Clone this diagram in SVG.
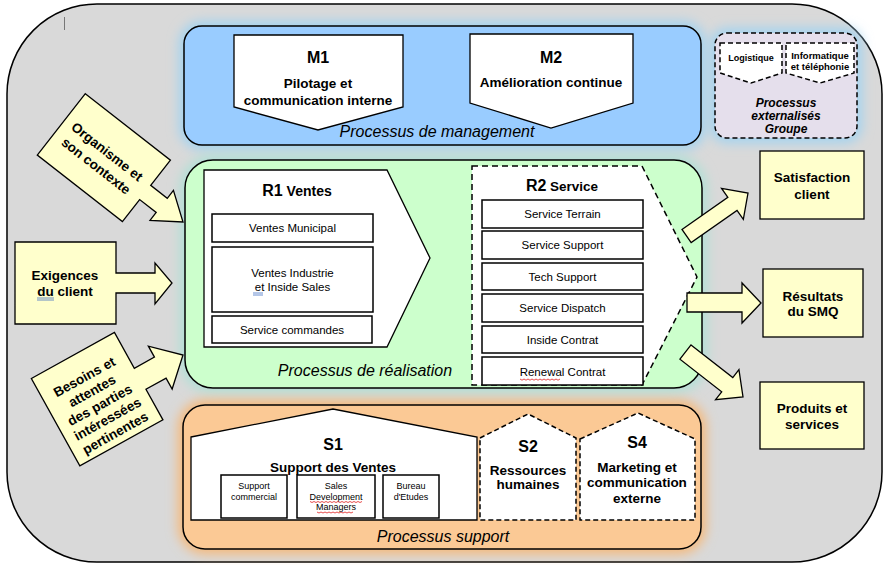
<svg xmlns="http://www.w3.org/2000/svg" width="884" height="565" viewBox="0 0 884 565">
<defs>
<filter id="glow" x="-20%" y="-30%" width="140%" height="160%"><feGaussianBlur stdDeviation="6"/></filter>
<style>
text{font-family:"Liberation Sans",Arial,sans-serif;fill:#000}
.b{font-weight:bold}
.bt{font-weight:bold;font-size:13.5px;text-anchor:middle}
.ttl{font-weight:bold;font-size:16px;text-anchor:middle}
.it{font-style:italic;font-size:16px;text-anchor:middle}
.sm{font-size:11.5px;text-anchor:middle}
.xs{font-size:9px;text-anchor:middle}
.ext{font-weight:bold;font-style:italic;font-size:12px;text-anchor:middle}
.box{fill:#fff;stroke:#000;stroke-width:1.5}
.wh{fill:#fff;stroke:#000;stroke-width:1.3}
.dash{fill:#fff;stroke:#000;stroke-width:1.5;stroke-dasharray:5,3}
.yel{fill:#ffffcc;stroke:#000;stroke-width:1.3}
.spell{fill:none;stroke:#e02020;stroke-width:0.8}
.blue{fill:none;stroke:#4472c4;stroke-width:0.8}
</style>
</defs>

<rect id="frame" x="7" y="4" width="875" height="558" rx="90" fill="#d9d9d9" stroke="#000" stroke-width="1.5"/>
<line x1="64.5" y1="17" x2="64.5" y2="30" stroke="#777" stroke-width="1"/>

<!-- glows -->
<rect x="184" y="26" width="517" height="119" rx="18" fill="#a3d3f0" stroke="#a3d3f0" stroke-width="10" filter="url(#glow)"/>
<rect x="715" y="33" width="142" height="105" rx="12" fill="#a3d3f0" stroke="#a3d3f0" stroke-width="10" filter="url(#glow)"/>
<rect x="185" y="160" width="517" height="228" rx="28" fill="#b0e0d6" stroke="#b0e0d6" stroke-width="10" filter="url(#glow)"/>
<rect x="183" y="405" width="518" height="144" rx="22" fill="#f6b878" stroke="#f6b878" stroke-width="10" filter="url(#glow)"/>

<g id="management">
<rect x="184" y="26" width="517" height="119" rx="18" fill="#99ccff" stroke="#000" stroke-width="1.5"/>
<g id="M1">
<polygon class="wh" points="234,35 403,35 403,107 318,130 234,107"/>
<text class="ttl" x="318" y="63">M1</text>
<text class="bt" x="318" y="88">Pilotage et</text>
<text class="bt" x="318" y="105">communication interne</text>
</g>
<g id="M2">
<polygon class="wh" points="470,34 633,34 633,103 551,128 470,103"/>
<text class="ttl" x="551" y="63">M2</text>
<text class="bt" x="551" y="87">Amélioration continue</text>
</g>
<text class="it" x="437" y="137">Processus de management</text>
</g>

<g id="externalises">
<rect x="715" y="33" width="142" height="105" rx="12" fill="#e5dfec" stroke="#000" stroke-width="1.5" stroke-dasharray="5,3"/>
<g id="logistique">
<polygon class="dash" points="720,43 782,43 782,73 751,83 720,73"/>
<text class="b" x="751" y="60.5" font-size="9" text-anchor="middle">Logistique</text>
</g>
<g id="informatique">
<polygon class="dash" points="786,43 854,43 854,73 820,83 786,73"/>
<text class="b" x="820" y="58.5" font-size="9.5" text-anchor="middle">Informatique</text>
<text class="b" x="820" y="69.5" font-size="9.5" text-anchor="middle">et téléphonie</text>
</g>
<text class="ext" x="786" y="107">Processus</text>
<text class="ext" x="786" y="120">externalisés</text>
<text class="ext" x="786" y="133">Groupe</text>
</g>

<g id="realisation">
<rect x="185" y="160" width="517" height="228" rx="28" fill="#ccffcc" stroke="#000" stroke-width="1.5"/>
<g id="R1">
<polygon class="wh" points="204,170 387,170 430,258 387,347 204,347"/>
<text class="b" x="297" y="196" text-anchor="middle"><tspan font-size="16">R1</tspan><tspan font-size="14"> Ventes</tspan></text>
<rect class="box" x="212" y="214" width="161" height="28"/>
<text class="sm" x="292.5" y="232">Ventes Municipal</text>
<rect class="box" x="212" y="247" width="161" height="65"/>
<text class="sm" x="292.5" y="277">Ventes Industrie</text>
<text class="sm" x="292.5" y="291">et Inside Sales</text>
<line class="blue" x1="253" y1="293" x2="263" y2="293"/>
<line class="blue" x1="253" y1="295" x2="263" y2="295"/>
<rect class="box" x="212" y="316" width="160" height="27"/>
<text class="sm" x="292" y="334">Service commandes</text>
</g>
<g id="R2">
<polygon fill="#fff" stroke="#000" stroke-width="1.5" stroke-dasharray="6,4" points="472,166 642,166 697,277 642,385 472,385"/>
<text class="b" x="562" y="191" text-anchor="middle"><tspan font-size="16">R2</tspan><tspan font-size="13.5"> Service</tspan></text>
<rect class="box" x="482" y="200" width="161" height="28"/>
<text class="sm" x="562.5" y="218">Service Terrain</text>
<rect class="box" x="482" y="231" width="161" height="28"/>
<text class="sm" x="562.5" y="249">Service Support</text>
<rect class="box" x="482" y="263" width="161" height="27"/>
<text class="sm" x="562.5" y="281">Tech Support</text>
<rect class="box" x="482" y="294" width="161" height="28"/>
<text class="sm" x="562.5" y="312">Service Dispatch</text>
<rect class="box" x="482" y="326" width="161" height="27"/>
<text class="sm" x="562.5" y="344">Inside Contrat</text>
<rect class="box" x="482" y="357" width="161" height="28"/>
<text class="sm" x="562.5" y="376">Renewal Contrat</text>
<path class="spell" d="M520,379 l2,1.2 l2,-1.2 l2,1.2 l2,-1.2 l2,1.2 l2,-1.2 l2,1.2 l2,-1.2 l2,1.2 l2,-1.2 l2,1.2 l2,-1.2 l2,1.2 l2,-1.2 l2,1.2 l2,-1.2 l2,1.2 l2,-1.2 l2,1.2 l2,-1.2"/>
</g>
<text class="it" x="365" y="376">Processus de réalisation</text>
</g>

<g id="support">
<rect x="183" y="405" width="518" height="144" rx="22" fill="#fbc995" stroke="#000" stroke-width="1.5"/>
<g id="S1">
<polygon class="wh" points="191,437 333,409 477,437 477,520 191,520"/>
<text class="ttl" x="333" y="450">S1</text>
<text class="bt" x="333" y="471.5">Support des Ventes</text>
<rect class="box" x="221" y="475" width="66" height="43"/>
<text class="xs" x="254" y="489">Support</text>
<text class="xs" x="254" y="499.5">commercial</text>
<rect class="box" x="297" y="475" width="78" height="43"/>
<text class="xs" x="336" y="489">Sales</text>
<text class="xs" x="336" y="499.5">Development</text>
<text class="xs" x="336" y="510">Managers</text>
<path class="spell" d="M310,501.5 l2,1 l2,-1 l2,1 l2,-1 l2,1 l2,-1 l2,1 l2,-1 l2,1 l2,-1 l2,1 l2,-1 l2,1 l2,-1 l2,1 l2,-1 l2,1 l2,-1 l2,1 l2,-1 l2,1 l2,-1 l2,1 l2,-1 l2,1 l2,-1"/>
<path class="spell" d="M317,512 l2,1 l2,-1 l2,1 l2,-1 l2,1 l2,-1 l2,1 l2,-1 l2,1 l2,-1 l2,1 l2,-1 l2,1 l2,-1 l2,1 l2,-1 l2,1 l2,-1"/>
<rect class="box" x="383" y="475" width="56" height="43"/>
<text class="xs" x="411" y="489">Bureau</text>
<text class="xs" x="411" y="499.5">d'Etudes</text>
</g>
<g id="S2">
<polygon class="dash" points="480,438 528,414 576,438 576,520 480,520"/>
<text class="ttl" x="528" y="451.5">S2</text>
<text class="bt" x="528" y="474.5">Ressources</text>
<text class="bt" x="528" y="489">humaines</text>
</g>
<g id="S4">
<polygon class="dash" points="580,439 638,413 695,439 695,520 580,520"/>
<text class="ttl" x="637" y="448">S4</text>
<text class="bt" x="637" y="471.5">Marketing et</text>
<text class="bt" x="637" y="487">communication</text>
<text class="bt" x="637" y="502.5">externe</text>
</g>
<text class="it" x="443" y="541.5">Processus support</text>
</g>

<g id="organisme" transform="translate(183,222) rotate(38)">
<polygon class="yel" points="-156,-41 -48,-41 -48,-9 -27,-9 -27,-19 0,0 -27,19 -27,9 -48,9 -48,37 -156,37"/>
<text class="bt" x="-103" y="-4">Organisme et</text>
<text class="bt" x="-103" y="14">son contexte</text>
</g>

<g id="exigences">
<polygon class="yel" points="15,242 116,242 116,273 155,273 155,263 172,283 155,304 155,293 116,293 116,324 15,324"/>
<text class="bt" x="65" y="280">Exigences</text>
<text class="bt" x="65" y="296">du client</text>
<line class="blue" x1="37" y1="298" x2="54" y2="298"/>
<line class="blue" x1="37" y1="300" x2="54" y2="300"/>
</g>

<g id="besoins" transform="translate(183,355) rotate(-29)">
<polygon class="yel" points="-144,-53 -49,-53 -49,-12 -26,-12 -26,-24.5 0,0 -26,24.5 -26,12 -49,12 -49,47 -144,47"/>
<text class="bt" x="-97" y="-24">Besoins et</text>
<text class="bt" x="-97" y="-8">attentes</text>
<text class="bt" x="-97" y="8">des parties</text>
<text class="bt" x="-97" y="24">intéressées</text>
<text class="bt" x="-97" y="40">pertinentes</text>
</g>

<g id="connectors">
<polygon class="yel" transform="translate(748,193) rotate(-35)" points="-75,-8 -19,-8 -19,-19 0,0 -19,19 -19,8 -75,8"/>
<polygon class="yel" points="687,293 742,293 742,283 761,303 742,323 742,312 687,312"/>
<polygon class="yel" transform="translate(743,397) rotate(38)" points="-73,-9 -20,-9 -20,-19 0,0 -20,19 -20,9 -73,9"/>
</g>

<g id="satisfaction">
<rect class="yel" x="760" y="151" width="104" height="68" stroke-width="1.5"/>
<text class="bt" x="812" y="182">Satisfaction</text>
<text class="bt" x="812" y="198.5">client</text>
</g>
<g id="resultats">
<rect class="yel" x="763" y="269" width="100" height="68" stroke-width="1.5"/>
<text class="bt" x="813" y="300.5">Résultats</text>
<text class="bt" x="813" y="315.5">du SMQ</text>
</g>
<g id="produits">
<rect class="yel" x="760" y="382" width="104" height="67" stroke-width="1.5"/>
<text class="bt" x="812" y="413">Produits et</text>
<text class="bt" x="812" y="428.5">services</text>
</g>
</svg>
